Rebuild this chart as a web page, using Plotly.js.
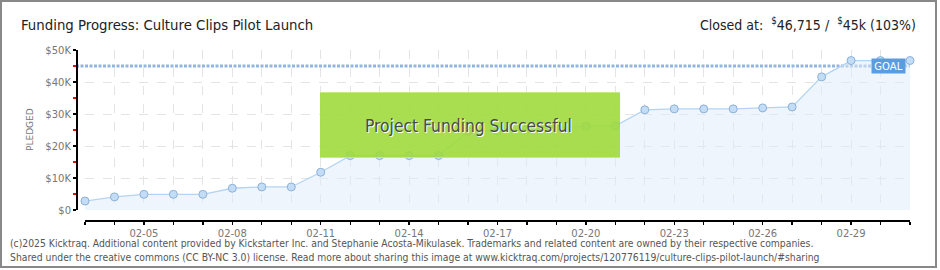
<!DOCTYPE html>
<html>
<head>
<meta charset="utf-8">
<script src="https://cdn.plot.ly/plotly-3.0.1.min.js"></script>
<style>
html,body{margin:0;padding:0;background:#fff;}
#chart{width:940px;height:270px;}
</style>
</head>
<body>
<div id="chart"></div>
<script>
// ---- data ----
const dates = ['2024-02-03','2024-02-04','2024-02-05','2024-02-06','2024-02-07','2024-02-08','2024-02-09','2024-02-10',
  '2024-02-11','2024-02-12','2024-02-13','2024-02-14','2024-02-15','2024-02-16','2024-02-17','2024-02-18','2024-02-19',
  '2024-02-20','2024-02-21','2024-02-22','2024-02-23','2024-02-24','2024-02-25','2024-02-26','2024-02-27','2024-02-28',
  '2024-02-29','2024-03-01','2024-03-02'];
const pledged = [2800,4100,4900,4900,4900,6800,7200,7200,
  11800,17000,17000,17000,17000,24600,24700,25200,25700,
  26200,26300,31300,31600,31600,31600,31900,32200,41600,
  46700,46700,46715];
const goal = 45000;
const yTickVals = [0,10000,20000,30000,40000,50000];
const yTickText = ['$0','$10K','$20K','$30K','$40K','$50K'];
const titleText = 'Funding Progress: Culture Clips Pilot Launch';
const closedText = 'Closed at:  <sup>$</sup>46,715 /  <sup>$</sup>45k (103%)';
const bannerText = 'Project Funding Successful';
const footer1 = '(c)2025 Kicktraq. Additional content provided by Kickstarter Inc. and Stephanie Acosta-Mikulasek. Trademarks and related content are owned by their respective companies.';
const footer2 = 'Shared under the creative commons (CC BY-NC 3.0) license. Read more about sharing this image at www.kicktraq.com/projects/120776119/culture-clips-pilot-launch/#sharing';

// ---- layout helpers (pixel -> paper) ----
const W = 940, H = 270, L = 76, R = 30, T = 50, B = 50;
const pw = W - L - R, ph = H - T - B;
const px = x => (x - L) / pw;
const py = y => (H - B - y) / ph;

const narrow = '"Liberation Sans Narrow", "DejaVu Sans Condensed", Arial, sans-serif';
const cond = '"DejaVu Sans Condensed", sans-serif';
const day = 86400000;

const trace = {
  x: dates, y: pledged, type: 'scatter', mode: 'lines+markers',
  fill: 'tozeroy', fillcolor: 'rgba(221,235,251,0.5)',
  line: {color: '#b3d4f4', width: 1.3},
  marker: {size: 8, color: '#c3ddf7', line: {color: '#8eb1d6', width: 1}},
  hoverinfo: 'skip', cliponaxis: false
};

const layout = {
  width: W, height: H,
  margin: {l: L, r: R, t: T, b: B},
  paper_bgcolor: '#fff', plot_bgcolor: 'rgba(0,0,0,0)',
  showlegend: false,
  font: {family: 'DejaVu Sans, sans-serif', size: 10, color: '#777'},
  xaxis: {
    type: 'date', range: [dates[0], dates[dates.length-1]],
    domain: [px(85), 1], anchor: 'free', position: 0,
    tick0: '2024-02-05', dtick: 3*day, tickformat: '%m-%d',
    ticks: 'outside', ticklen: 3, tickcolor: '#000', tickwidth: 1.3,
    showline: true, linecolor: '#000', linewidth: 1.5,
    showgrid: true, gridcolor: '#e4e4e4', griddash: 'dash', gridwidth: 1,
    zeroline: false, fixedrange: true,
    tickfont: {size: 10, color: '#777'},
    minor: {dtick: day, tick0: '2024-02-03', ticks: 'outside', ticklen: 3, tickcolor: '#000', tickwidth: 1.3,
            showgrid: true, gridcolor: '#e4e4e4', griddash: 'dash', gridwidth: 1}
  },
  yaxis: {
    range: [0, 50000], domain: [py(210), 1], anchor: 'free', position: 0,
    tickvals: yTickVals, ticktext: yTickText,
    ticks: 'outside', ticklen: 3, tickcolor: '#000', tickwidth: 1.3,
    showline: true, linecolor: '#000', linewidth: 1.5,
    showgrid: true, gridcolor: '#e4e4e4', griddash: 'dash', gridwidth: 1,
    zeroline: false, fixedrange: true,
    tickfont: {size: 10, color: '#777'},
    minor: {dtick: 5000, tick0: 5000, ticks: 'outside', ticklen: 3, tickcolor: '#ff0000', tickwidth: 1.3, showgrid: false}
  },
  shapes: [
    // outer frame
    {type: 'rect', xref: 'paper', yref: 'paper', x0: px(1), x1: px(936), y0: py(1), y1: py(267),
     line: {color: '#888', width: 2}, fillcolor: 'rgba(0,0,0,0)', layer: 'above'},
    // goal line
    {type: 'line', xref: 'paper', yref: 'y', x0: 0, x1: px(910), y0: goal, y1: goal,
     line: {color: '#93b6de', width: 3, dash: '3px,1.5px'}, layer: 'between'},
    // success banner
    {type: 'rect', xref: 'paper', yref: 'paper', x0: px(320), x1: px(620), y0: py(158), y1: py(92),
     fillcolor: 'rgb(158,218,60)', opacity: 0.9, line: {width: 0}, layer: 'above'},
    {type: 'line', xref: 'paper', yref: 'paper', x0: px(320), x1: px(620), y0: py(92.5), y1: py(92.5),
     line: {color: '#c4ea86', width: 1.2}, layer: 'above'},
    {type: 'line', xref: 'paper', yref: 'paper', x0: px(320), x1: px(620), y0: py(157.5), y1: py(157.5),
     line: {color: '#c4ea86', width: 1.2}, layer: 'above'}
  ],
  annotations: [
    {text: titleText, xref: 'paper', yref: 'paper', x: px(19), y: py(24), xanchor: 'left', yanchor: 'middle',
     showarrow: false, font: {family: narrow, size: 14.8, color: '#222'}},
    {text: closedText, xref: 'paper', yref: 'paper', x: px(918), y: py(24), xanchor: 'right', yanchor: 'middle',
     showarrow: false, font: {family: narrow, size: 14, color: '#222'}},
    {text: 'PLEDGED', xref: 'paper', yref: 'paper', x: px(30), y: py(130), textangle: -90,
     xanchor: 'center', yanchor: 'middle', showarrow: false, font: {size: 9, color: '#777'}},
    {text: bannerText, xref: 'paper', yref: 'paper', x: px(469), y: py(127), xanchor: 'center', yanchor: 'middle',
     showarrow: false, font: {family: cond, size: 17.3, color: '#ffffff'}},
    {text: bannerText, xref: 'paper', yref: 'paper', x: px(468), y: py(126), xanchor: 'center', yanchor: 'middle',
     showarrow: false, font: {family: cond, size: 17.3, color: '#4a4a4a'}},
    {text: 'GOAL', xref: 'paper', yref: 'paper', x: px(888), y: py(66), xanchor: 'center', yanchor: 'middle',
     showarrow: false, bgcolor: '#5b9be0', borderpad: 1, width: 31, height: 12,
     font: {size: 10, color: '#ffffff'}},
    {text: footer1, xref: 'paper', yref: 'paper', x: px(8), y: py(243), xanchor: 'left', yanchor: 'middle',
     showarrow: false, font: {family: cond, size: 10.3, color: '#555'}},
    {text: footer2, xref: 'paper', yref: 'paper', x: px(8), y: py(257), xanchor: 'left', yanchor: 'middle',
     showarrow: false, font: {family: cond, size: 10.3, color: '#555'}}
  ]
};

Plotly.newPlot('chart', [trace], layout, {displayModeBar: false, staticPlot: true});
</script>
</body>
</html>
